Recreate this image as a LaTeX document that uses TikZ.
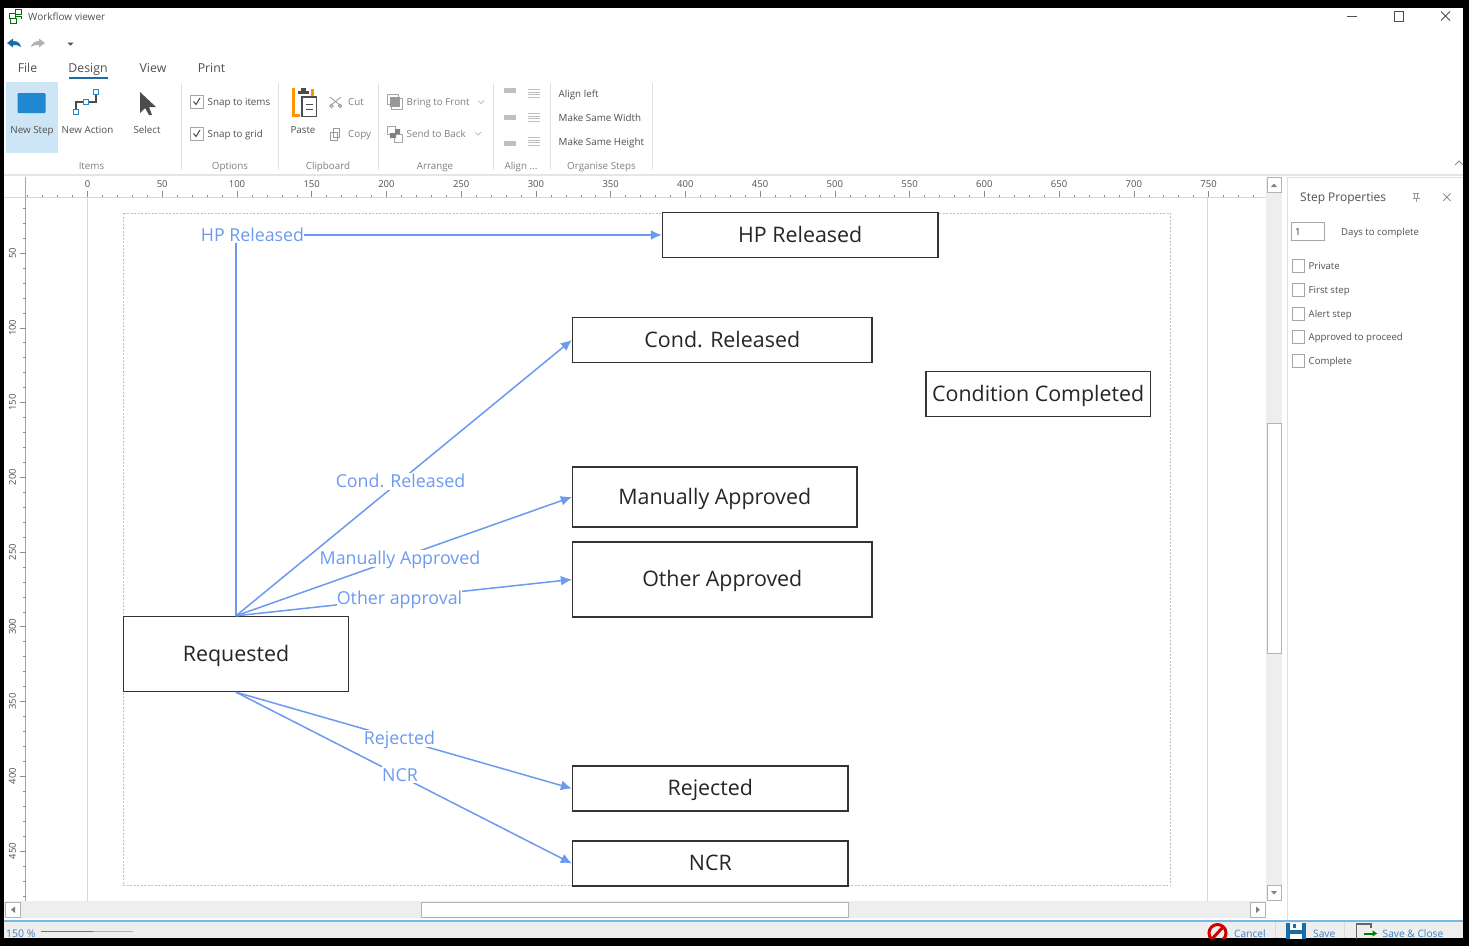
\documentclass[tikz,border=0pt]{standalone}
\usepackage{fontspec}
\setmainfont{Open Sans}
\usetikzlibrary{arrows.meta}
\definecolor{wire}{HTML}{6C9AF0}
\definecolor{uitext}{HTML}{505050}
\definecolor{uidim}{HTML}{808080}
\definecolor{track}{HTML}{EEEEEE}
\definecolor{rule}{HTML}{D8D8D8}
\definecolor{accent}{HTML}{1E88D0}
\definecolor{statusblue}{HTML}{3F7FC0}
\tikzset{
  stepbox/.style={draw=black!80,line width=1.4pt,fill=white,inner sep=0pt,font=\fontsize{21.4}{24}\selectfont,text=black!85,text height=14pt,text depth=0pt},
  flow/.style={draw=wire,line width=1.5pt,-{Latex[length=11pt,width=10pt]}},
  flowlabel/.style={fill=white,inner xsep=0pt,inner ysep=0pt,text=wire,font=\fontsize{17.8}{20}\selectfont,text height=15pt,text depth=2pt},
  ui/.style={inner sep=0pt,text=uitext,font=\fontsize{9.8}{12}\selectfont,text height=7pt,text depth=0pt},
  uil/.style={ui,anchor=west},
  dim/.style={ui,anchor=west,text=uidim},
  group/.style={ui,text=uidim},
  tabn/.style={inner sep=0pt,text=uitext,font=\fontsize{12.3}{15}\selectfont,text height=9pt,text depth=0pt},
  rulernum/.style={inner sep=0pt,text=uitext,font=\fontsize{9.5}{11}\selectfont},
  tick/.style={draw=black!45,line width=.5pt},
  checkb/.style={draw=black!35,line width=.7pt,fill=white},
  sep/.style={draw=black!12,line width=1pt},
  scrollbtn/.style={draw=black!30,line width=.7pt,fill=white},
  arrowglyph/.style={fill=black!50,draw=none},
}
\begin{document}
\begin{tikzpicture}[x=1pt,y=-1pt]
\useasboundingbox (0,0) rectangle (1469,946);
\fill[black] (0,0) rectangle (1469,946);
\fill[white] (4,8) rectangle (1463,938);

% ---- title bar
\draw[green!45!black,line width=.8pt] (9,13) rectangle ++(6,5) (15,9.5) rectangle ++(6,5) (10,18) rectangle ++(6,5) (16,16) -- (21,16) -- (21,19);
\node[ui,anchor=west,font=\fontsize{10}{12}\selectfont] (title) at (28,16.5) {Workflow viewer};
\draw[black!70,line width=.8pt] (1347,16.5) -- (1357,16.5);
\draw[black!70,line width=.8pt] (1394,11) rectangle (1403.5,21);
\draw[black!70,line width=.9pt] (1441,11.5) -- (1450,20.5) (1450,11.5) -- (1441,20.5);
% quick access
\fill[accent!80!black] (7,43) -- (13,38.5) -- (13,41) .. controls (18,41) and (20,43) .. (21,47) .. controls (19,45) and (16,45) .. (13,45) -- (13,47.5) -- cycle;
\fill[black!30] (45,43) -- (39,38.5) -- (39,41) .. controls (35,41) and (32,43) .. (31,47) .. controls (33,45) and (36,45) .. (39,45) -- (39,47.5) -- cycle;
\fill[black!70] (67.5,42.5) -- (73.5,42.5) -- (70.5,45.5) -- cycle;

% ---- tabs
\node[tabn] (tfile) at (27.5,68) {File};
\node[tabn] (tdesign) at (88,68) {Design};
\node[tabn] (tview) at (153,68) {View};
\node[tabn] (tprint) at (211.5,68) {Print};
\fill[accent!80!black] (69,76.5) rectangle (107.5,79);

% ---- ribbon: items
\fill[accent!22] (6,82) rectangle (58,153);
\fill[accent,rounded corners=1pt] (17.5,93) rectangle (45.5,113);
\node[ui] (inew) at (32,129.5) {New Step};
\draw[black!70,line width=1.2pt] (76,112) -- (76,102) -- (96,102) -- (96,92);
\foreach \p in {(76,112),(86,102),(96,92)}{\draw[accent,line width=1.2pt,fill=white] \p ++(-2.5,-2.5) rectangle ++(5,5);}
\node[ui] (iact) at (87.5,129.5) {New Action};
\fill[black!70] (140,92) -- (156,107) -- (149,107) -- (152,115) -- (149,115) -- (145,108) -- (140,113) -- cycle;
\node[ui] (isel) at (147,129.5) {Select};
\node[group] (gitems) at (91.5,165.5) {Items};
\draw[sep] (181.5,83) -- (181.5,170);

% options
\foreach \y in {101.5,133.5}{
  \draw[checkb] (190.5,\y-6.5) rectangle (203,\y+6.5);
  \draw[black!70,line width=1pt] (193.5,\y) -- (196,\y+3) -- (200,\y-3.5);
}
\node[uil] (osnapi) at (207.5,102) {Snap to items};
\node[uil] (osnapg) at (207.5,134) {Snap to grid};
\node[group] (goptions) at (230,165.5) {Options};
\draw[sep] (278.5,83) -- (278.5,170);

% clipboard
\draw[orange!85!yellow,line width=3pt] (295,89) -- (293,89) -- (293,115.5) -- (300,115.5);
\draw[orange!85!yellow,line width=3pt] (312,89) -- (312,97);
\fill[black!70] (298,91) rectangle (309,94);
\fill[black!70] (301,88) rectangle (306,92);
\draw[black!70,line width=1.3pt,fill=white] (302,97) rectangle (316.5,116.5);
\draw[black!70,line width=1pt] (305.5,104) -- (313,104) (305.5,109) -- (313,109);
\node[ui] (cpaste) at (303,129.5) {Paste};
\draw[black!40,line width=.8pt] (330,97) -- (341,106) (341,97) -- (330,106);
\draw[black!40,line width=.8pt] (331.5,106) circle (1.8) (340,106) circle (1.8);
\node[dim] (ccut) at (348,102) {Cut};
\draw[black!40,line width=.8pt] (333,128) rectangle (339,137) (330,132) rectangle (337,140);
\node[dim] (ccopy) at (348,134) {Copy};
\node[group] (gclip) at (328,165.5) {Clipboard};
\draw[sep] (378.5,83) -- (378.5,170);

% arrange
\draw[black!35,line width=.7pt] (387,94) rectangle (398,104) (391,98) rectangle (402,109);
\fill[black!40] (390,97) rectangle (400,107);
\node[dim] (abring) at (406.5,102) {Bring to Front};
\draw[black!30,line width=.7pt] (478,100.5) -- (481,103.5) -- (484,100.5);
\draw[black!35,line width=.7pt] (387,126) rectangle (395,134) (394,134) rectangle (402,142);
\fill[black!50] (390,133) rectangle (396,138) (395,129) rectangle (400,134);
\node[dim] (asend) at (406.5,134) {Send to Back};
\draw[black!30,line width=.7pt] (475,132) -- (478,135) -- (481,132);
\node[group] (garr) at (435,165.5) {Arrange};
\draw[sep] (493.5,83) -- (493.5,170);

% align
\foreach \y in {90,117,143}{\fill[black!25] (504,\y-2.5) rectangle (516,\y+2.5);}
\foreach \y/\a/\b in {93/528/540,117/528/540,141/528/540}{
  \foreach \d in {-4,-1.5,1,3.5}{\fill[black!25] (\a,\y+\d) rectangle (\b,\y+\d+1.2);}
}
\node[group] (galign) at (521,165.5) {Align ...};
\draw[sep] (550.5,83) -- (550.5,170);

% organise
\node[uil] (oleft) at (558.5,94) {Align left};
\node[uil] (owidth) at (558.5,118) {Make Same Width};
\node[uil] (oheight) at (558.5,142) {Make Same Height};
\node[group] (gorg) at (601.5,165.5) {Organise Steps};
\draw[sep] (652.5,83) -- (652.5,170);
\draw[black!45,line width=.8pt] (1455,165) -- (1459,161) -- (1463,165);

% ---- separators below the ribbon
\draw[black!10,line width=1.5pt] (4,175) -- (1463,175);

% ---- rulers
\draw[rule,line width=1pt] (4,197) -- (1266,197);
\draw[black!35,line width=.7pt] (25.5,177) -- (25.5,901);
\foreach \n in {0,50,...,750}{
  \pgfmathsetmacro\xx{87.5+1.4947*\n}
  \node[rulernum] (hr\n) at (\xx,184.3) {\n};
  \draw[tick] (\xx,191) -- (\xx,197);
}
\foreach \n in {-40,-30,...,780}{
  \pgfmathsetmacro\xx{87.5+1.4947*\n}
  \draw[tick] (\xx,194.5) -- (\xx,197);
}
\foreach \n in {50,100,...,450}{
  \pgfmathsetmacro\yy{178.3+1.4947*\n}
  \node[rulernum,rotate=90] (vr\n) at (12.5,\yy) {\n};
  \draw[tick] (19.5,\yy) -- (25.5,\yy);
}
\foreach \n in {20,30,...,480}{
  \pgfmathsetmacro\yy{178.3+1.4947*\n}
  \draw[tick] (23,\yy) -- (25.5,\yy);
}
% canvas guides
\draw[rule,line width=1pt] (87,197) -- (87,901);
\draw[rule,line width=1pt] (1207.5,197) -- (1207.5,901);
\draw[black!25,dash pattern=on 2pt off 1.5pt,line width=.7pt] (123.8,213) rectangle (1170.8,885.5);

% ---- steps
\node[stepbox,minimum width=275.5pt,minimum height=45pt] (hp) at (800.2,235) {HP Released};
\node[stepbox,minimum width=299.5pt,minimum height=45pt] (cond) at (722.3,340) {Cond. Released};
\node[stepbox,minimum width=224.5pt,minimum height=45pt] (done) at (1038.2,394) {Condition Completed};
\node[stepbox,minimum width=284.5pt,minimum height=60pt] (man) at (714.8,497) {Manually Approved};
\node[stepbox,minimum width=299.5pt,minimum height=75pt] (oth) at (722.3,579.5) {Other Approved};
\node[stepbox,minimum width=224.5pt,minimum height=75pt] (req) at (236,654) {Requested};
\node[stepbox,minimum width=275.5pt,minimum height=45pt] (rej) at (710.3,788.5) {Rejected};
\node[stepbox,minimum width=275.5pt,minimum height=45pt] (ncr) at (710.3,863.5) {NCR};

% ---- actions
\draw[flow] (req.north) |- (hp.west);
\draw[flow] (req.north) -- (cond.west);
\draw[flow] (req.north) -- (man.west);
\draw[flow] (req.north) -- (oth.west);
\draw[flow] (req.south) -- (rej.west);
\draw[flow] (req.south) -- (ncr.west);
\node[flowlabel] (lhp) at (252.5,234.5) {HP Released};
\node[flowlabel] (lcond) at (400.5,481) {Cond. Released};
\node[flowlabel] (lman) at (400,558) {Manually Approved};
\node[flowlabel] (loth) at (399.5,598) {Other approval};
\node[flowlabel] (lrej) at (399.5,738) {Rejected};
\node[flowlabel] (lncr) at (400,774.5) {NCR};

% ---- scrollbars
\fill[track] (1266,177) rectangle (1282,901);
\fill[track] (4,901) rectangle (1266,918);
\draw[scrollbtn] (1267,177.5) rectangle (1281.5,192.5);
\fill[arrowglyph] (1271,187) -- (1277,187) -- (1274,183.5) -- cycle;
\draw[scrollbtn] (1267,885.5) rectangle (1281.5,900.5);
\fill[arrowglyph] (1271,891) -- (1277,891) -- (1274,894.5) -- cycle;
\draw[scrollbtn] (1267,423) rectangle (1281.5,653);
\draw[scrollbtn] (5.5,902.5) rectangle (20.5,917);
\fill[arrowglyph] (15,906.5) -- (15,913) -- (11,909.7) -- cycle;
\draw[scrollbtn] (1250,902.5) rectangle (1265,917);
\fill[arrowglyph] (1256,906.5) -- (1256,913) -- (1260,909.7) -- cycle;
\draw[scrollbtn] (421,902.5) rectangle (848,917);

% ---- properties panel
\draw[black!12,line width=1pt] (1287.5,177) -- (1287.5,920) (1287.5,177) -- (1463,177);
\node[ui,anchor=west,font=\fontsize{12}{15}\selectfont,text height=8pt] (ptitle) at (1300,197) {Step Properties};
\draw[black!40,line width=.7pt] (1413,193.5) -- (1419,193.5) (1412.5,198) -- (1419.5,198) (1414.5,193.5) -- (1414.5,198) (1417.5,193.5) -- (1417.5,198) (1416,198) -- (1416,202);
\draw[black!50,line width=.7pt] (1443,193.5) -- (1450.5,201) (1450.5,193.5) -- (1443,201);
\draw[checkb] (1291.5,222.5) rectangle (1324,240);
\node[uil,text=black!80] (pdaysv) at (1295,232) {1};
\node[uil,font=\fontsize{9.6}{12}\selectfont] (pdays) at (1341,232) {Days to complete};
\foreach \nm/\y/\t in {ppriv/266/Private,pfirst/290/First step,palert/313.5/Alert step,pappr/337/Approved to proceed,pcomp/360.5/Complete}{
  \draw[checkb] (1292,\y-6.5) rectangle (1304.5,\y+6.5);
  \node[uil,font=\fontsize{9.6}{12}\selectfont] (\nm) at (1308.5,\y) {\t};
}

% ---- status bar
\fill[track] (4,920) rectangle (1463,938);
\draw[accent!60,line width=1.5pt] (4,921) -- (1463,921);
\begin{scope}
\clip (0,0) rectangle (1469,938);
\node[ui,anchor=west,text=statusblue,font=\fontsize{10.5}{13}\selectfont] (szoom) at (6,934) {150 \%};
\draw[black!30,line width=1pt] (41,931) -- (133,931);
\draw[statusblue,line width=1pt] (41,931) -- (93,931);
\draw[red!80!black,line width=3pt] (1217.5,933) circle (8.5);
\draw[red!80!black,line width=3pt] (1212,939) -- (1223,927);
\node[ui,anchor=west,text=statusblue,font=\fontsize{10.2}{12}\selectfont] (scancel) at (1234,934) {Cancel};
\fill[accent!80!black] (1286,923) rectangle (1306,945);
\fill[white] (1290,923) rectangle (1302,930);
\fill[accent!80!black] (1292.5,924) rectangle (1295.5,928);
\fill[white] (1290,934) rectangle (1302,945);
\node[ui,anchor=west,text=statusblue,font=\fontsize{10.2}{12}\selectfont] (ssave) at (1313,934) {Save};
\draw[black!60,line width=1.2pt] (1356.5,945) -- (1356.5,924) -- (1371,924) -- (1371,928);
\draw[green!50!black,line width=2pt,-{Latex[length=5pt,width=7pt]}] (1364,933.5) -- (1377.5,933.5);
\node[ui,anchor=west,text=statusblue,font=\fontsize{10.2}{12}\selectfont] (ssavec) at (1382.5,934) {Save \& Close};
\end{scope}
\draw[black!15,line width=.8pt] (1275,922) -- (1275,938) (1344.5,922) -- (1344.5,938);
\end{tikzpicture}
\end{document}
